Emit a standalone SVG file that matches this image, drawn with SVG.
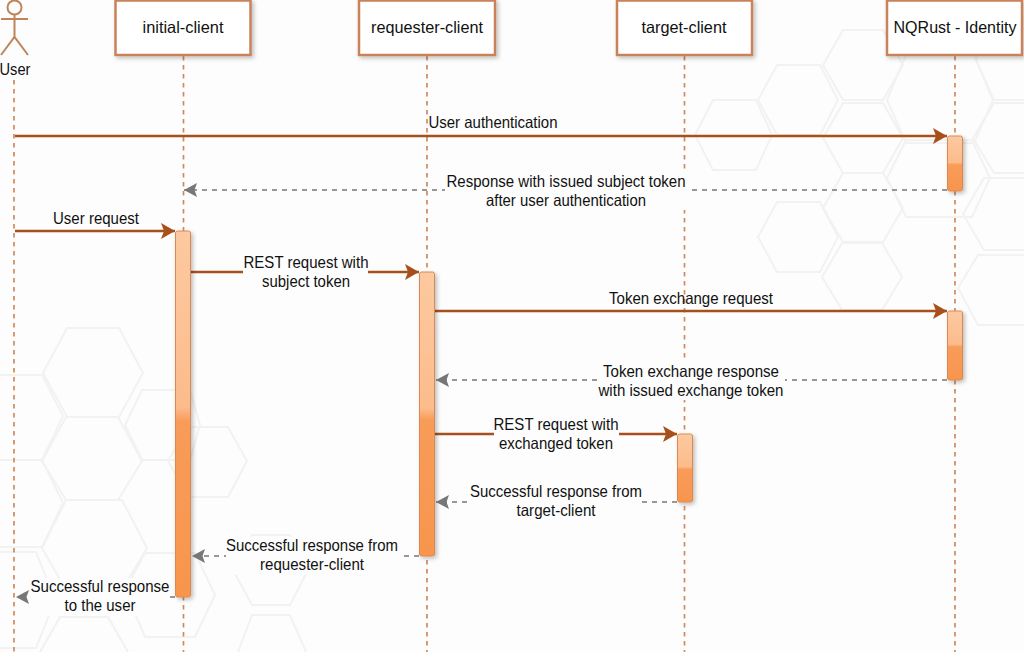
<svg xmlns="http://www.w3.org/2000/svg" width="1024" height="652" viewBox="0 0 1024 652">
<style>
text{font-family:"Liberation Sans",Arial,sans-serif;font-size:16.5px;fill:#111;text-anchor:middle}
.box{fill:#fff;stroke:#c9825a;stroke-width:2.5;filter:url(#sh)}
.life{stroke:#d08a5c;stroke-width:1.7;stroke-dasharray:4.5 4.5;fill:none}
.act{stroke:#d98a52;stroke-width:1;filter:url(#sh)}
.req{stroke:#a8501c;stroke-width:2.4;fill:none;marker-end:url(#solid)}
.res{stroke:#777;stroke-width:1.7;stroke-dasharray:5 5;fill:none;marker-end:url(#open)}
.lbl{fill:#fdfdfd}
.hex path,.hex use{fill:none;stroke:#f2f2f1;stroke-width:2;vector-effect:non-scaling-stroke}
.actor{fill:none;stroke:#c08459;stroke-width:2}
</style>
<defs>
<filter id="sh" x="-30%" y="-30%" width="170%" height="170%"><feDropShadow dx="2" dy="2" stdDeviation="2" flood-color="#000" flood-opacity="0.25"/></filter>
<linearGradient id="g1" x1="0" y1="0" x2="0" y2="1"><stop offset="0" stop-color="#fdc9a0"/><stop offset="0.48" stop-color="#fcbc8c"/><stop offset="0.52" stop-color="#f89c5a"/><stop offset="1" stop-color="#f8954c"/></linearGradient>
<marker id="solid" markerUnits="userSpaceOnUse" markerWidth="15" markerHeight="16" refX="14" refY="8" orient="auto"><path d="M0 0L14 8L0 16L3 8Z" fill="#a8501c"/></marker>
<marker id="open" markerUnits="userSpaceOnUse" markerWidth="14" markerHeight="14" refX="13" refY="7" orient="auto"><path d="M0 0L13 7L0 14L2.500 7Z" fill="#777"/></marker>
</defs>
<rect id="background" width="1024" height="652" fill="#fdfdfd"/>
<g id="hexagons" class="hex" fill="none" stroke="#f2f2f1" stroke-width="2">
<path d="M758 100L777 65H820L838 100L820 135H777Z"/>
<path d="M823 138L843 103H883L903 138L883 173H843Z"/>
<path d="M823 65L843 30H883L903 65L883 100H843Z"/>
<path d="M887 100L906 55H974L993 100L974 143H906Z"/>
<path d="M887 178L906 140H972L990 178L972 217H906Z"/>
<path d="M973 138L994 103H1040L1060 138L1040 173H994Z"/>
<path d="M976 60L994 22H1040L1060 60L1040 100H994Z"/>
<path d="M963 214L984 178H1040L1060 214L1040 250H984Z"/>
<path d="M958 288L978 255H1040L1060 288L1040 325H978Z"/>
<path d="M823 208L843 173H883L903 208L883 242H843Z"/>
<path d="M758 237L777 202H820L838 237L820 272H777Z" stroke="#f6f6f5"/>
<path d="M822 277L842 243H882L902 277L882 310H842Z" stroke="#f6f6f5"/>
<path d="M695 135L713 100H756L772 135L756 170H713Z" stroke="#f6f6f5"/>
<path d="M43 373L67 328H119L143 373L119 417H67Z" stroke="#f5f5f4"/>
<path d="M42 461L66 417H118L142 461L118 500H66Z"/>
<path d="M42 548L66 500H122L147 548L122 590H66Z"/>
<path d="M-42 416L-20 375H42L63 416L42 460H-20Z"/>
<path d="M-42 503L-20 460H42L63 503L42 547H-20Z"/>
<path d="M-42 600L-20 552H36L55 600L36 648H-20Z"/>
<path d="M40 652L60 617H108L128 652"/>
<path d="M125 425L142 390H190L200 425L190 460H142Z" stroke="#f6f6f5"/>
<path d="M168 461L188 427H228L247 461L228 497H188Z" stroke="#f6f6f5"/>
<path d="M125 590L145 553H195L215 595L195 637H145Z"/>
<path d="M233 570L252 535H290L308 570L290 605H252Z" stroke="#f6f6f5"/>
<path d="M238 652L252 615H290L306 652" stroke="#f6f6f5"/>
</g>
<g id="connectors">
<path class="life" d="M14 80V652M183.500 56V652M427 56V652M684.500 56V652M955 56V652"/>
<path class="req" d="M15 136H947"/>
<path class="res" d="M947 190H184"/>
<path class="req" d="M15 231H175"/>
<path class="req" d="M191 272H419"/>
<path class="req" d="M435 311H947"/>
<path class="res" d="M947 380H436"/>
<path class="req" d="M435 434H677"/>
<path class="res" d="M677 502H436"/>
<path class="res" d="M419 556H192"/>
<path class="res" d="M175 597H16"/>
</g>
<g id="user"><circle class="actor" cx="14.500" cy="7.500" r="7"/><path class="actor" d="M14.500 15V37M1 19H28M1 55L14.500 37L28 55"/><text x="15" y="75" textLength="31" lengthAdjust="spacingAndGlyphs">User</text></g>
<g id="initial-client"><rect class="box" x="115.500" y="0.500" width="135" height="54.500"/><text x="183" y="33" textLength="81" lengthAdjust="spacingAndGlyphs">initial-client</text></g>
<g id="requester-client"><rect class="box" x="359" y="0.500" width="136" height="54.500"/><text x="427" y="33" textLength="112" lengthAdjust="spacingAndGlyphs">requester-client</text></g>
<g id="target-client"><rect class="box" x="617" y="0.500" width="135" height="54.500"/><text x="684" y="33" textLength="85" lengthAdjust="spacingAndGlyphs">target-client</text></g>
<g id="nqrust-identity"><rect class="box" x="887" y="0.500" width="135" height="54.500"/><text x="955" y="33" textLength="123" lengthAdjust="spacingAndGlyphs">NQRust - Identity</text></g>
<g id="activations">
<rect class="act" fill="url(#g1)" x="947.500" y="136" width="15" height="55" rx="2"/>
<rect class="act" fill="url(#g1)" x="175.500" y="231" width="15" height="366" rx="2"/>
<rect class="act" fill="url(#g1)" x="419.500" y="272" width="15" height="284" rx="2"/>
<rect class="act" fill="url(#g1)" x="947.500" y="311" width="15" height="69" rx="2"/>
<rect class="act" fill="url(#g1)" x="677.500" y="434" width="15" height="68" rx="2"/>
</g>
<g id="labels">
<text x="493" y="128" textLength="129" lengthAdjust="spacingAndGlyphs">User authentication</text>
<rect class="lbl" x="445" y="172" width="242" height="38"/>
<text x="566" y="187" textLength="239" lengthAdjust="spacingAndGlyphs">Response with issued subject token</text>
<text x="566" y="206" textLength="160" lengthAdjust="spacingAndGlyphs">after user authentication</text>
<text x="96" y="224" textLength="86" lengthAdjust="spacingAndGlyphs">User request</text>
<rect class="lbl" x="243" y="254" width="125" height="38"/>
<text x="306" y="268" textLength="125" lengthAdjust="spacingAndGlyphs">REST request with</text>
<text x="306" y="287" textLength="88" lengthAdjust="spacingAndGlyphs">subject token</text>
<text x="691" y="304" textLength="164" lengthAdjust="spacingAndGlyphs">Token exchange request</text>
<rect class="lbl" x="599" y="362" width="186" height="38"/>
<text x="691" y="377" textLength="176" lengthAdjust="spacingAndGlyphs">Token exchange response</text>
<text x="691" y="396" textLength="185" lengthAdjust="spacingAndGlyphs">with issued exchange token</text>
<rect class="lbl" x="494" y="416" width="125" height="38"/>
<text x="556" y="430" textLength="125" lengthAdjust="spacingAndGlyphs">REST request with</text>
<text x="556" y="449" textLength="114" lengthAdjust="spacingAndGlyphs">exchanged token</text>
<rect class="lbl" x="470" y="483" width="172" height="38"/>
<text x="556" y="497" textLength="172" lengthAdjust="spacingAndGlyphs">Successful response from</text>
<text x="556" y="516" textLength="79" lengthAdjust="spacingAndGlyphs">target-client</text>
<rect class="lbl" x="226" y="537" width="173" height="38"/>
<text x="312" y="551" textLength="172" lengthAdjust="spacingAndGlyphs">Successful response from</text>
<text x="312" y="570" textLength="104" lengthAdjust="spacingAndGlyphs">requester-client</text>
<rect class="lbl" x="30" y="578" width="140" height="38"/>
<text x="100" y="592" textLength="139" lengthAdjust="spacingAndGlyphs">Successful response</text>
<text x="100" y="611" textLength="71" lengthAdjust="spacingAndGlyphs">to the user</text>
</g>
</svg>
